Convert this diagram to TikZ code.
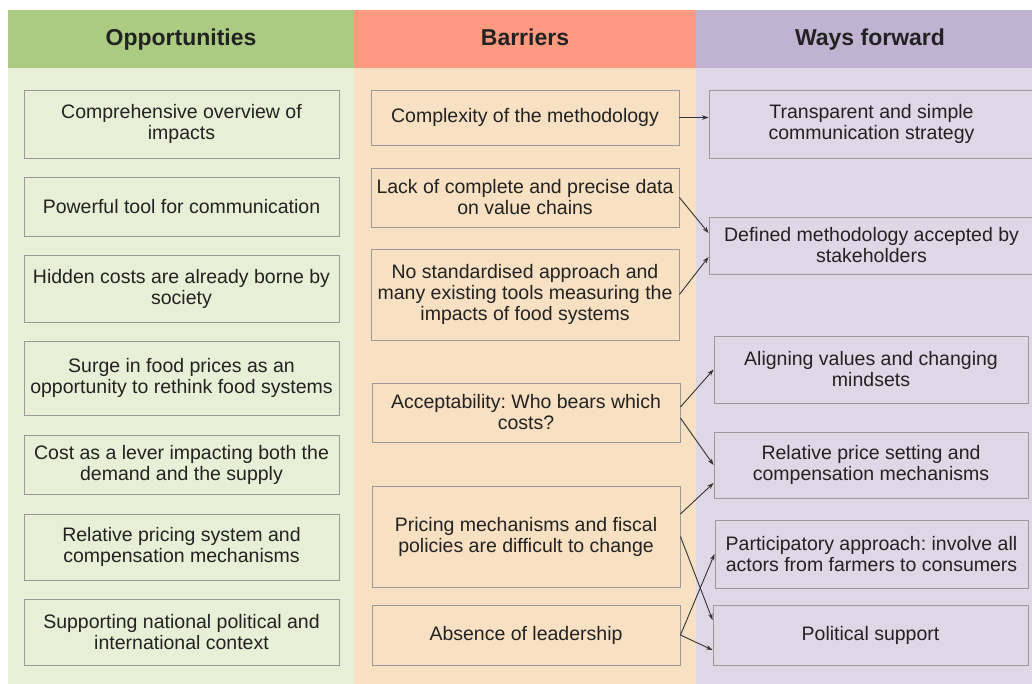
\documentclass[tikz,border=0pt]{standalone}
\usepackage{fontspec}
\setmainfont{Liberation Sans}
\usetikzlibrary{arrows.meta}
\frenchspacing

\definecolor{oppHead}{HTML}{ABCB83}
\definecolor{oppBody}{HTML}{E8EFD6}
\definecolor{barHead}{HTML}{FF9980}
\definecolor{barBody}{HTML}{F8E0C2}
\definecolor{wayHead}{HTML}{C0B3D2}
\definecolor{wayBody}{HTML}{DED7E6}
\definecolor{edgeGray}{HTML}{9A9A9A}
\definecolor{inkDark}{HTML}{222222}
\definecolor{linkGray}{HTML}{333333}

\tikzset{
  headtext/.style={font=\fontsize{23}{26}\selectfont\bfseries, text=inkDark, anchor=base},
  cellbox/.style={draw=edgeGray, line width=0.9pt, align=center, inner sep=0pt,
    font=\fontsize{19.5}{21}\selectfont, text=inkDark},
  oppbox/.style={cellbox, fill=oppBody, minimum width=315},
  barbox/.style={cellbox, fill=barBody, minimum width=308},
  link/.style={draw=linkGray, line width=0.9pt, -{Stealth[length=6.5pt,width=4.5pt]}}
}

\begin{document}
\begin{tikzpicture}[x=1pt,y=-1pt]
\useasboundingbox (0,0) rectangle (1032,684);
\fill[white] (0,0) rectangle (1032,684);

% column backgrounds and headers
\fill[oppBody] (8,68) rectangle (354,684);
\fill[barBody] (354,68) rectangle (696,684);
\fill[wayBody] (696,68) rectangle (1032,684);
\fill[oppHead] (8,10) rectangle (354,68);
\fill[barHead] (354,10) rectangle (696,68);
\fill[wayHead] (696,10) rectangle (1032,68);
\node[headtext] (hopp) at (181,46) {Opportunities};
\node[headtext] (hbar) at (525,46) {Barriers};
\node[headtext] (hway) at (870,46) {Ways forward};

% opportunities
\node[oppbox, minimum height=68] (o1) at (181.5,124) {Comprehensive overview of\\impacts};
\node[oppbox, minimum height=59] (o2) at (181.5,206.5) {Powerful tool for communication};
\node[oppbox, minimum height=67] (o3) at (181.5,288.5) {Hidden costs are already borne by\\society};
\node[oppbox, minimum height=74] (o4) at (181.5,378) {Surge in food prices as an\\opportunity to rethink food systems};
\node[oppbox, minimum height=59] (o5) at (181.5,464.5) {Cost as a lever impacting both the\\demand and the supply};
\node[oppbox, minimum height=66] (o6) at (181.5,547) {Relative pricing system and\\compensation mechanisms};
\node[oppbox, minimum height=66] (o7) at (181.5,632) {Supporting national political and\\international context};

% barriers
\node[barbox, minimum height=55] (b1) at (525,117.5) {Complexity of the methodology};
\node[barbox, minimum height=59] (b2) at (525,197.5) {Lack of complete and precise data\\on value chains};
\node[barbox, minimum height=91] (b3) at (525,294.5) {No standardised approach and\\many existing tools measuring the\\impacts of food systems};
\node[barbox, minimum height=59] (b4) at (526,412.5) {Acceptability: Who bears which\\costs?};
\node[barbox, minimum height=101] (b5) at (526,536.5) {Pricing mechanisms and fiscal\\policies are difficult to change};
\node[barbox, minimum height=60] (b6) at (526,635) {Absence of leadership};

% ways forward
\node[cellbox, fill=wayBody, minimum width=325, minimum height=68] (w1) at (871.5,124) {Transparent and simple\\communication strategy};
\node[cellbox, fill=wayBody, minimum width=325, minimum height=57] (w2) at (871.5,245.5) {Defined methodology accepted by\\stakeholders};
\node[cellbox, fill=wayBody, minimum width=314, minimum height=67] (w3) at (871,369.5) {Aligning values and changing\\mindsets};
\node[cellbox, fill=wayBody, minimum width=314, minimum height=66] (w4) at (871,465) {Relative price setting and\\compensation mechanisms};
\node[cellbox, fill=wayBody, minimum width=313, minimum height=68] (w5) at (871.5,554) {Participatory approach: involve all\\actors from farmers to consumers};
\node[cellbox, fill=wayBody, minimum width=315, minimum height=60] (w6) at (870.5,635) {Political support};

% connectors
\draw[link] (b1.east) -- (b1.east -| w1.west);
\draw[link] (b2.east) -- ([yshift=12.5pt]w2.west);
\draw[link] (b3.east) -- ([yshift=-11.5pt]w2.west);
\draw[link] ([yshift=5.5pt]b4.east) -- (w3.west);
\draw[link] ([yshift=-5.5pt]b4.east) -- (w4.west);
\draw[link] ([yshift=22.5pt]b5.east) -- ([yshift=-18pt]w4.west);
\draw[link] (b5.east) -- ([yshift=15pt]w6.west);
\draw[link] (b6.east) -- (w5.west);
\draw[link] (b6.east) -- ([yshift=-15pt]w6.west);
\end{tikzpicture}
\end{document}
